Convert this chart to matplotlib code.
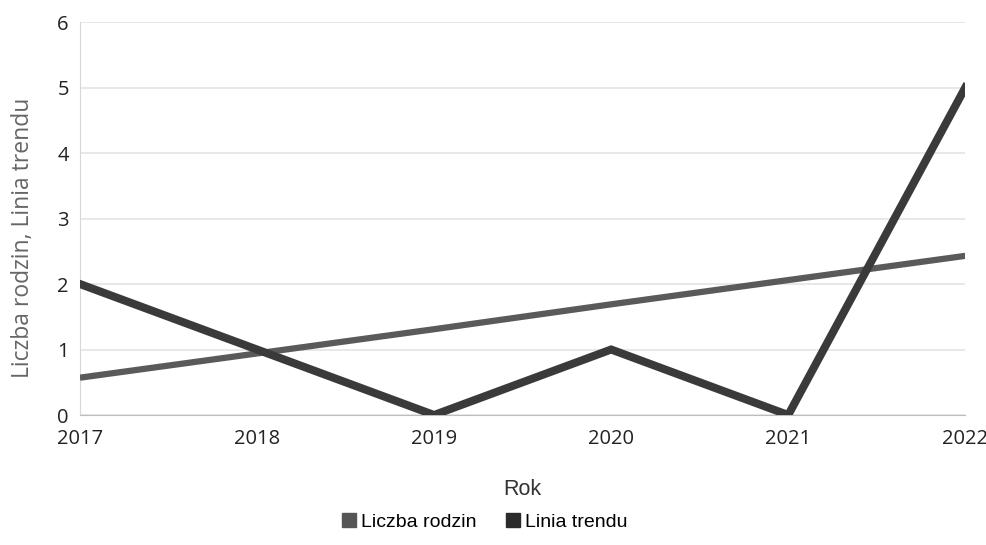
import matplotlib
matplotlib.use("Agg")
import matplotlib.pyplot as plt
from matplotlib.lines import Line2D

years = [2017, 2018, 2019, 2020, 2021, 2022]
liczba_rodzin = [2, 1, 0, 1, 0, 5]
linia_trendu = [0.57, 0.94, 1.31, 1.69, 2.06, 2.43]
y_ticks = [0, 1, 2, 3, 4, 5, 6]

fig = plt.figure(figsize=(9.87, 5.45), dpi=100)
ax = fig.add_axes([0.081, 0.2385, 0.897, 0.7211])

ax.plot(years, linia_trendu, color="#5a5a5a", lw=4.5, solid_capstyle="butt", zorder=3)
ax.plot(years, liczba_rodzin, color="#3a3a3a", lw=5.8, solid_joinstyle="miter", zorder=4)

ax.set_xlim(2017, 2022)
ax.set_ylim(0, 6)
ax.set_xticks(years)
ax.set_yticks(y_ticks)
ax.grid(axis="y", color="#e4e4e4", lw=1.2)
ax.set_axisbelow(True)
for s in ["top", "right"]:
    ax.spines[s].set_visible(False)
ax.spines["left"].set_color("#d8d8d8")
ax.spines["bottom"].set_color("#bdbdbd")
ax.tick_params(length=0, labelsize=14.5, colors="#222222", pad=10)
ax.tick_params(axis="y", pad=8)
for t in ax.get_xticklabels() + ax.get_yticklabels():
    t.set_family("Open Sans")

ax.set_xlabel("Rok", fontsize=15.5, color="#333333", family="Liberation Sans", labelpad=22)
# y label placed by hand, it sits a bit lower than the axes centre in the original
fig.text(0.023, 0.563, "Liczba rodzin, Linia trendu", rotation=90, ha="center", va="center",
         fontsize=16.5, color="#666666", family="Open Sans")

handles = [Line2D([], [], ls="", marker="s", ms=10, color="#555555"),
           Line2D([], [], ls="", marker="s", ms=10, color="#2b2b2b")]
fig.legend(handles, ["Liczba rodzin", "Linia trendu"], loc="center",
           bbox_to_anchor=(0.49, 0.042), ncol=2, frameon=False,
           prop={"family": "Liberation Sans", "size": 14},
           handletextpad=0.1, columnspacing=1.4, handlelength=1.0)

fig.savefig("out.png", dpi=100)
